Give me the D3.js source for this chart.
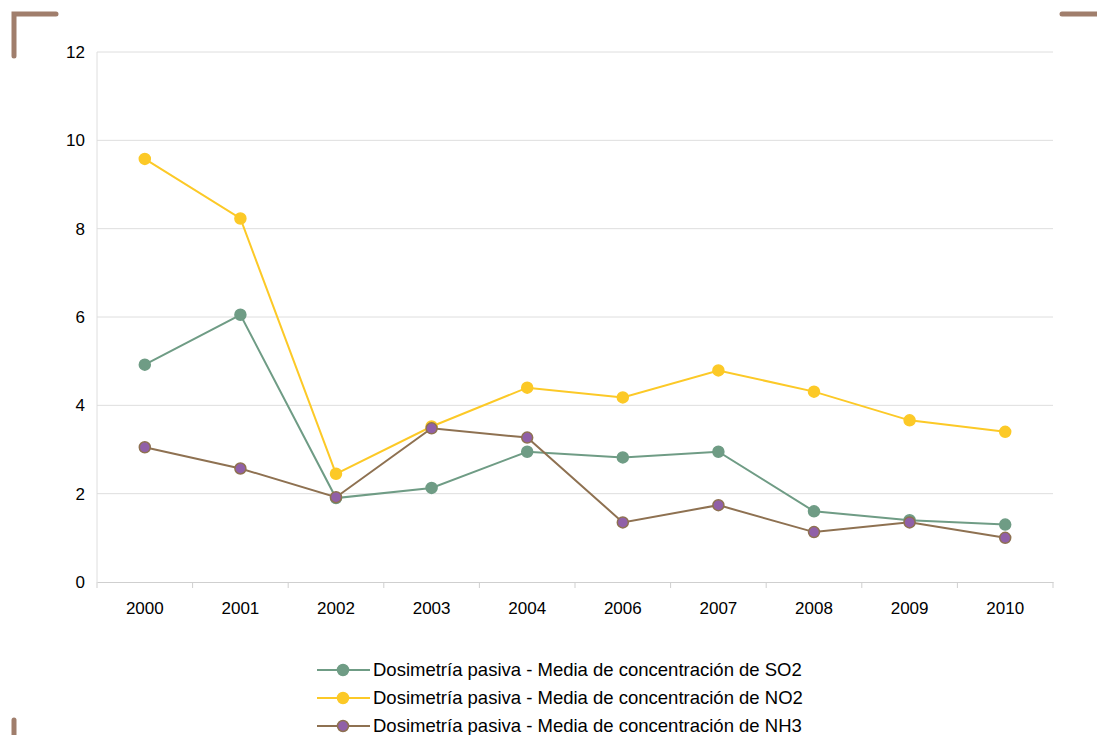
<!DOCTYPE html>
<html><head><meta charset="utf-8">
<script src="https://cdn.jsdelivr.net/npm/d3@7"></script>
<style>body{margin:0;background:#fff}svg{display:block}</style>
</head><body><svg id="c" width="1097" height="735"></svg>
<script>
const years = ['2000','2001','2002','2003','2004','2006','2007','2008','2009','2010'];
const so2 = [4.92, 6.05, 1.9, 2.13, 2.95, 2.82, 2.95, 1.6, 1.4, 1.3];
const no2 = [9.58, 8.23, 2.45, 3.52, 4.4, 4.18, 4.79, 4.31, 3.66, 3.4];
const nh3 = [3.05, 2.57, 1.92, 3.48, 3.27, 1.35, 1.74, 1.13, 1.35, 1.0];
const yTicks = [0, 2, 4, 6, 8, 10, 12];
const series = [
  { name: 'Dosimetría pasiva - Media de concentración de SO2', values: so2, line: '#6f9c85', dot: '#6f9c85', stroke: '#6f9c85' },
  { name: 'Dosimetría pasiva - Media de concentración de NO2', values: no2, line: '#fcc927', dot: '#fcc927', stroke: '#fcc927' },
  { name: 'Dosimetría pasiva - Media de concentración de NH3', values: nh3, line: '#8e7151', dot: '#9060a8', stroke: '#8e7151' }
];

const svg = d3.select('#c');
const margin = { left: 97, right: 44, top: 52, bottom: 153 };
const W = 1097, H = 735;
const x = d3.scaleBand().domain(years).range([margin.left, W - margin.right]);
const y = d3.scaleLinear().domain([0, 12]).range([H - margin.bottom, margin.top]);
const font = 'Liberation Sans, Arial, sans-serif';

// corner marks
const corner = svg.append('g').attr('stroke', '#a07e6c').attr('stroke-width', 5).attr('stroke-linecap', 'round').attr('fill', 'none');
corner.append('path').attr('d', 'M14,56 V14 H56');
corner.append('path').attr('d', 'M1062,14 H1097');
corner.append('path').attr('d', 'M14,720 V740');

// grid
svg.append('g').selectAll('line').data(yTicks.slice(1)).join('line')
  .attr('x1', margin.left).attr('x2', W - margin.right)
  .attr('y1', d => y(d)).attr('y2', d => y(d))
  .attr('stroke', '#dedede');
svg.append('line').attr('x1', margin.left).attr('x2', margin.left)
  .attr('y1', y(12)).attr('y2', y(0)).attr('stroke', '#dedede');

// x axis
const xa = svg.append('g').attr('transform', `translate(0,${y(0)})`)
  .call(d3.axisBottom(x).tickSize(0).tickPadding(20));
xa.select('.domain').attr('stroke', '#cfcfcf');
xa.selectAll('text').attr('font-family', font).attr('font-size', 17).attr('fill', '#000');
svg.append('g').selectAll('line').data(years.concat(['end'])).join('line')
  .attr('x1', (d, i) => margin.left + i * x.bandwidth()).attr('x2', (d, i) => margin.left + i * x.bandwidth())
  .attr('y1', y(0)).attr('y2', y(0) + 6).attr('stroke', '#cfcfcf');

// y axis
const ya = svg.append('g').attr('transform', `translate(${margin.left},0)`)
  .call(d3.axisLeft(y).tickValues(yTicks).tickSize(0).tickPadding(12));
ya.select('.domain').remove();
ya.selectAll('text').attr('font-family', font).attr('font-size', 17).attr('fill', '#000');

const cx = d => x(d) + x.bandwidth() / 2;
const line = d3.line().x((v, i) => cx(years[i])).y(v => y(v));
series.forEach(s => {
  svg.append('path').attr('d', line(s.values)).attr('fill', 'none').attr('stroke', s.line).attr('stroke-width', 2);
  svg.append('g').selectAll('circle').data(s.values).join('circle')
    .attr('cx', (v, i) => cx(years[i])).attr('cy', v => y(v)).attr('r', 5.5)
    .attr('fill', s.dot).attr('stroke', s.stroke).attr('stroke-width', 1.5);
});

// legend
const lg = svg.append('g').attr('transform', 'translate(317,670)');
series.forEach((s, i) => {
  const g = lg.append('g').attr('transform', `translate(0,${i * 28})`);
  g.append('line').attr('x1', 0).attr('x2', 53).attr('stroke', s.line).attr('stroke-width', 2);
  g.append('circle').attr('cx', 26).attr('r', 5.5).attr('fill', s.dot).attr('stroke', s.stroke).attr('stroke-width', 1.5);
  g.append('text').attr('x', 56).attr('dy', '0.35em').attr('font-family', font).attr('font-size', 18.5).text(s.name);
});
</script></body></html>
